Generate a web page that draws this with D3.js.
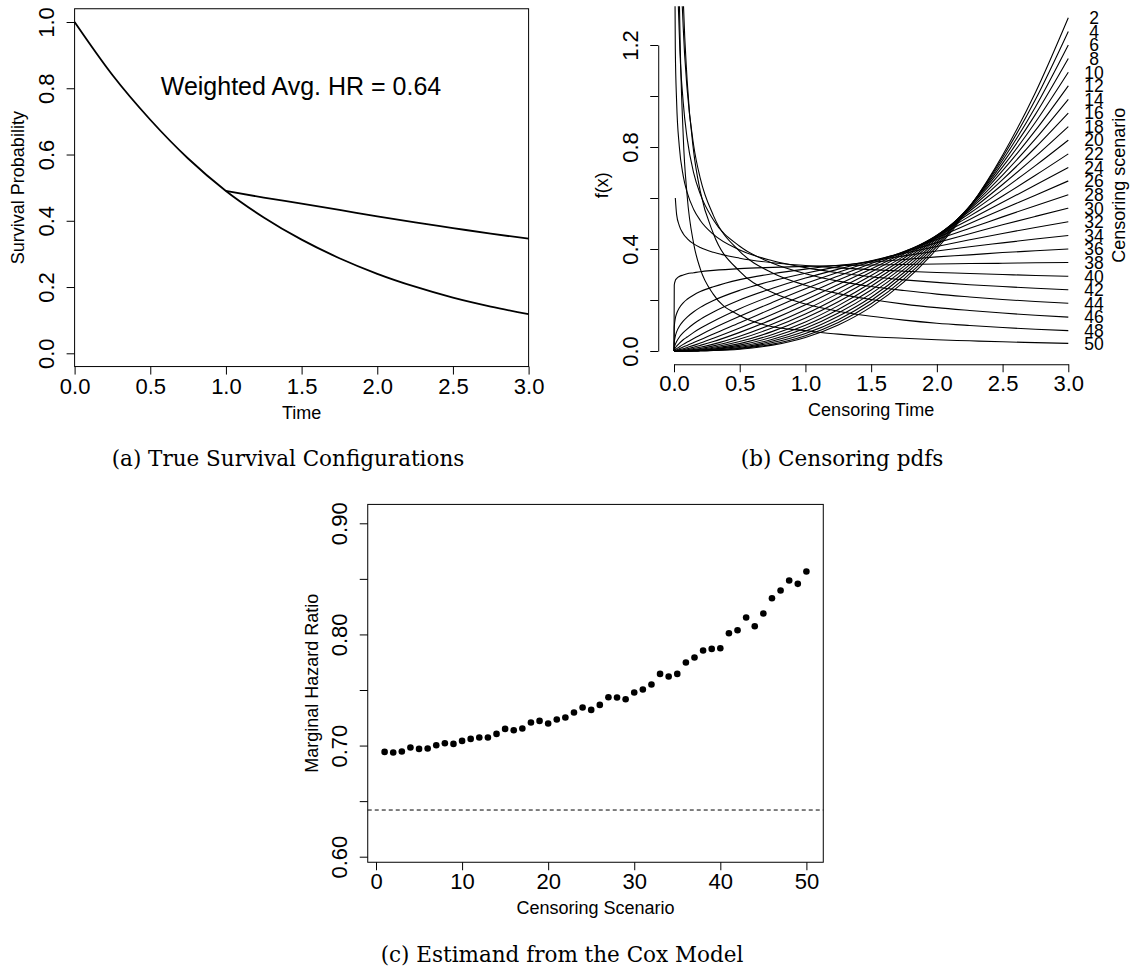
<!DOCTYPE html>
<html lang="en">
<head>
<meta charset="UTF-8">
<title>Survival configurations, censoring pdfs and Cox estimand</title>
<script src="https://d3js.org/d3.v7.min.js"></script>
<style>
  body { margin: 0; background: #fff; }
  svg { display: block; font-family: "Liberation Sans", Arial, sans-serif; }
  .caption { font-family: "DejaVu Serif", serif; font-size: 21.5px; }
  .tick line, .domain { stroke: #000; stroke-width: 1; }
</style>
</head>
<body>
<script>
// ---------- data: (a) true survival ----------
const survTime  = [0, 0.25, 0.5, 0.75, 1.0, 1.25, 1.5, 1.75, 2.0, 2.25, 2.5, 2.75, 3.0];
const survLower = [1.0, 0.840, 0.705, 0.588, 0.490, 0.410, 0.343, 0.287, 0.240, 0.201, 0.168, 0.141, 0.118];
const survUpperTime = [1.0, 1.25, 1.5, 1.75, 2.0, 2.25, 2.5, 2.75, 3.0];
const survUpper = [0.490, 0.470, 0.452, 0.433, 0.413, 0.395, 0.378, 0.361, 0.346];
const aTicksX = [0, 0.5, 1, 1.5, 2, 2.5, 3];
const aTicksY = [0, 0.2, 0.4, 0.6, 0.8, 1.0];

// ---------- data: (b) censoring pdfs, one array per scenario ----------
const censorX = [0, 0.002, 0.01, 0.02, 0.04, 0.07, 0.1, 0.15, 0.2, 0.3, 0.5, 0.75, 1, 1.25, 1.5, 1.75, 2, 2.25, 2.5, 2.75, 3];
const pdf02 = [0,0,0,0,0,0,0,0,0.001,0.002,0.007,0.023,0.053,0.102,0.173,0.271,0.400,0.564,0.768,1.014,1.307];
const pdf04 = [0,0,0,0,0,0,0,0,0.001,0.002,0.009,0.027,0.060,0.112,0.185,0.283,0.410,0.566,0.759,0.986,1.253];
const pdf06 = [0,0,0,0,0,0,0,0,0.001,0.003,0.011,0.033,0.069,0.123,0.198,0.296,0.419,0.567,0.748,0.957,1.2];
const pdf08 = [0,0,0,0,0,0,0,0.001,0.002,0.004,0.014,0.039,0.078,0.136,0.211,0.308,0.427,0.568,0.736,0.928,1.147];
const pdf10 = [0,0,0,0,0,0,0,0.001,0.002,0.006,0.018,0.046,0.089,0.149,0.225,0.320,0.434,0.567,0.722,0.897,1.093];
const pdf12 = [0,0,0,0,0,0,0.001,0.002,0.003,0.008,0.023,0.055,0.101,0.163,0.239,0.332,0.441,0.565,0.707,0.865,1.04];
const pdf14 = [0,0,0,0,0,0.001,0.001,0.003,0.005,0.011,0.029,0.065,0.114,0.178,0.254,0.343,0.446,0.561,0.690,0.832,0.987];
const pdf16 = [0,0,0,0,0,0.001,0.002,0.004,0.007,0.015,0.037,0.077,0.129,0.193,0.268,0.354,0.450,0.556,0.672,0.798,0.933];
const pdf18 = [0,0,0,0,0.001,0.002,0.003,0.006,0.010,0.020,0.047,0.091,0.145,0.210,0.282,0.364,0.453,0.549,0.653,0.763,0.88];
const pdf20 = [0,0,0,0,0.001,0.003,0.005,0.010,0.015,0.027,0.058,0.106,0.162,0.226,0.296,0.372,0.454,0.540,0.632,0.727,0.827];
const pdf22 = [0,0,0,0.001,0.003,0.005,0.009,0.015,0.022,0.037,0.073,0.124,0.181,0.244,0.310,0.380,0.453,0.529,0.608,0.689,0.773];
const pdf24 = [0,0,0.001,0.002,0.005,0.009,0.014,0.022,0.031,0.050,0.090,0.144,0.201,0.261,0.322,0.385,0.450,0.516,0.583,0.651,0.72];
const pdf26 = [0,0,0.002,0.004,0.009,0.016,0.022,0.033,0.044,0.067,0.111,0.167,0.222,0.278,0.333,0.389,0.444,0.5,0.556,0.611,0.667];
const pdf28 = [0,0.001,0.005,0.009,0.016,0.026,0.035,0.049,0.063,0.089,0.136,0.191,0.244,0.294,0.343,0.390,0.437,0.481,0.526,0.570,0.613];
const pdf30 = [0,0.004,0.012,0.019,0.030,0.044,0.055,0.073,0.089,0.117,0.166,0.218,0.265,0.309,0.350,0.388,0.425,0.460,0.495,0.528,0.56];
const pdf32 = [0,0.011,0.026,0.037,0.054,0.072,0.086,0.107,0.124,0.153,0.200,0.246,0.286,0.321,0.354,0.383,0.410,0.436,0.461,0.484,0.507];
const pdf34 = [0,0.033,0.058,0.075,0.096,0.117,0.133,0.154,0.171,0.198,0.238,0.275,0.305,0.331,0.353,0.373,0.392,0.409,0.424,0.439,0.453];
const pdf36 = [0,0.093,0.128,0.147,0.169,0.189,0.203,0.220,0.233,0.252,0.280,0.303,0.321,0.336,0.348,0.359,0.369,0.377,0.386,0.393,0.4];
const pdf38 = [0,0.259,0.276,0.284,0.292,0.298,0.303,0.307,0.311,0.316,0.323,0.328,0.332,0.335,0.337,0.339,0.341,0.343,0.344,0.346,0.347];
const pdf40 = [null,null,0.60,0.535,0.492,0.460,0.441,0.420,0.406,0.387,0.364,0.346,0.335,0.326,0.319,0.313,0.308,0.304,0.300,0.296,0.293];
const pdf42 = [null,1.86,1.185,0.976,0.804,0.687,0.622,0.555,0.512,0.457,0.396,0.354,0.327,0.307,0.291,0.279,0.269,0.260,0.253,0.246,0.24];
const pdf44 = [null,null,2.297,1.693,1.247,0.976,0.834,0.698,0.615,0.514,0.411,0.344,0.303,0.274,0.253,0.237,0.223,0.212,0.202,0.194,0.187];
const pdf46 = [null,null,4.08,2.69,1.777,1.271,1.026,0.805,0.677,0.531,0.391,0.306,0.258,0.225,0.202,0.184,0.170,0.159,0.149,0.140,0.133];
const pdf48 = [null,null,6.1,3.61,2.13,1.391,1.061,0.780,0.626,0.460,0.312,0.229,0.184,0.156,0.136,0.121,0.109,0.100,0.092,0.085,0.08];
const pdf50 = [null,null,5.07,2.68,1.416,0.846,0.609,0.420,0.322,0.222,0.139,0.095,0.08,0.066,0.056,0.05,0.044,0.04,0.036,0.033,0.03];
const censorScenario = [2, 4, 6, 8, 10, 12, 14, 16, 18, 20, 22, 24, 26, 28, 30, 32, 34, 36, 38, 40, 42, 44, 46, 48, 50];
const censorCurves = [pdf02, pdf04, pdf06, pdf08, pdf10, pdf12, pdf14, pdf16, pdf18, pdf20, pdf22, pdf24, pdf26,
                      pdf28, pdf30, pdf32, pdf34, pdf36, pdf38, pdf40, pdf42, pdf44, pdf46, pdf48, pdf50];
const bTicksX = [0, 0.5, 1, 1.5, 2, 2.5, 3];
const bTicksY = [0, 0.2, 0.4, 0.6, 0.8, 1.0, 1.2];
const bLabelsY = [0, 0.4, 0.8, 1.2];

// ---------- data: (c) marginal HR from the Cox model ----------
const coxScenario = [1,2,3,4,5,6,7,8,9,10,11,12,13,14,15,16,17,18,19,20,21,22,23,24,25,
                     26,27,28,29,30,31,32,33,34,35,36,37,38,39,40,41,42,43,44,45,46,47,48,49,50];
const coxHR = [0.6943,0.6937,0.6946,0.6982,0.6970,0.6973,0.7003,0.7021,0.7015,0.7042,
               0.7060,0.7072,0.7072,0.7105,0.7150,0.7138,0.7153,0.7207,0.7222,0.7198,
               0.7234,0.7252,0.7297,0.7342,0.7321,0.7366,0.7435,0.7432,0.7417,0.7477,
               0.7504,0.7549,0.7645,0.7621,0.7645,0.7747,0.7792,0.7855,0.7870,0.7876,
               0.8011,0.8038,0.8152,0.8074,0.8188,0.8326,0.8395,0.8485,0.8455,0.8566];
const weightedHR = 0.642;
const cTicksX = [0, 10, 20, 30, 40, 50];
const cTicksY = [0.60, 0.65, 0.70, 0.75, 0.80, 0.85, 0.90];
const cLabelsY = [0.6, 0.7, 0.8, 0.9];

// ---------- svg ----------
const svg = d3.select('body').append('svg')
    .attr('width', 1130)
    .attr('height', 973);
svg.append('rect').attr('width', 1130).attr('height', 973).attr('fill', '#fff');

const TICK = 8, TICK_FONT = 22, LAB_FONT = 18;

// bottom axis with labels whose baseline sits 27px under the axis line
function bottomAxis(g, scale, values, fmt, keepDomain) {
    g.call(d3.axisBottom(scale).tickValues(values).tickFormat(fmt).tickSize(TICK).tickSizeOuter(0));
    if (!keepDomain) g.select('.domain').remove();
    g.selectAll('text').attr('y', 27).attr('dy', null)
        .style('font-size', TICK_FONT + 'px').attr('fill', '#000');
}
// left axis, labels rotated like R's las = 0
function leftAxis(g, scale, values, fmt, keepDomain) {
    g.call(d3.axisLeft(scale).tickValues(values).tickFormat(fmt).tickSize(TICK).tickSizeOuter(0));
    if (!keepDomain) g.select('.domain').remove();
    g.selectAll('text').attr('x', 0).attr('y', -20.6).attr('dy', null)
        .attr('transform', 'rotate(-90)').style('text-anchor', 'middle')
        .style('font-size', TICK_FONT + 'px').attr('fill', '#000');
}
function vLabel(x, y, txt, size) {
    svg.append('text').attr('transform', `translate(${x},${y}) rotate(-90)`)
        .attr('text-anchor', 'middle').style('font-size', size + 'px').text(txt);
}

// ================= (a) =================
const xA = d3.scaleLinear().domain([0, 3]).range([74.6, 528.6]);
const yA = d3.scaleLinear().domain([0, 1]).range([353.3, 22]);
const aTop = yA(1.04), aBot = yA(-0.04);

svg.append('rect').attr('x', xA(0)).attr('y', aTop)
    .attr('width', xA(3) - xA(0)).attr('height', aBot - aTop)
    .attr('fill', 'none').attr('stroke', '#000');

bottomAxis(svg.append('g').attr('transform', `translate(0,${aBot})`), xA, aTicksX, d3.format('.1f'));
leftAxis(svg.append('g').attr('transform', `translate(${xA(0)},0)`), yA, aTicksY, d3.format('.1f'));

const lineA = d3.line().x(d => xA(d[0])).y(d => yA(d[1])).curve(d3.curveMonotoneX);
svg.append('path').attr('d', lineA(survTime.map((t, i) => [t, survLower[i]])))
    .attr('fill', 'none').attr('stroke', '#000').attr('stroke-width', 1.8);
svg.append('path').attr('d', lineA(survUpperTime.map((t, i) => [t, survUpper[i]])))
    .attr('fill', 'none').attr('stroke', '#000').attr('stroke-width', 1.8);

svg.append('text').attr('x', 301).attr('y', 95).attr('text-anchor', 'middle')
    .style('font-size', '25px').text('Weighted Avg. HR = 0.64');
svg.append('text').attr('x', (xA(0) + xA(3)) / 2).attr('y', aBot + 52)
    .attr('text-anchor', 'middle').style('font-size', LAB_FONT + 'px').text('Time');
vLabel(xA(0) - 50.2, (aTop + aBot) / 2, 'Survival Probability', LAB_FONT);

// ================= (b) =================
const xB = d3.scaleLinear().domain([0, 3]).range([674, 1068.3]);
const yB = d3.scaleLinear().domain([0, 1.2]).range([351, 45]);
const bLeft = xB(-0.12), bRight = xB(3.12), bTop = yB(1.352), bBot = yB(-0.052);

svg.append('clipPath').attr('id', 'clipB').append('rect')
    .attr('x', bLeft).attr('y', bTop).attr('width', bRight - bLeft).attr('height', bBot - bTop);

bottomAxis(svg.append('g').attr('transform', `translate(0,${bBot})`), xB, bTicksX, d3.format('.1f'), true);
leftAxis(svg.append('g').attr('transform', `translate(${bLeft},0)`), yB, bTicksY,
    d => bLabelsY.includes(d) ? d3.format('.1f')(d) : '', true);

const lineB = d3.line()
    .defined(d => d[1] != null)
    .x(d => xB(d[0])).y(d => yB(d[1]))
    .curve(d3.curveMonotoneX);

svg.append('g').attr('clip-path', 'url(#clipB)')
    .selectAll('path')
    .data(censorCurves)
  .enter().append('path')
    .attr('d', vals => lineB(censorX.map((x, i) => [x, vals[i]])))
    .attr('fill', 'none').attr('stroke', '#000').attr('stroke-width', 1.1);

// scenario numbers at the right end of each curve (they touch, as in the original)
svg.append('g').selectAll('text')
    .data(censorCurves)
  .enter().append('text')
    .attr('x', 1094)
    .attr('y', vals => yB(vals[vals.length - 1]))
    .attr('dy', '0.36em')
    .attr('text-anchor', 'middle')
    .style('font-size', '17.5px')
    .text((vals, i) => censorScenario[i]);

vLabel(1124.5, (bTop + bBot) / 2, 'Censoring scenario', 18);
svg.append('text').attr('x', (bLeft + bRight) / 2).attr('y', bBot + 52)
    .attr('text-anchor', 'middle').style('font-size', LAB_FONT + 'px').text('Censoring Time');
vLabel(bLeft - 50.2, (bTop + bBot) / 2, 'f(x)', LAB_FONT);

// ================= (c) =================
const xC = d3.scaleLinear().domain([0, 50]).range([376, 806.4]);
const yC = d3.scaleLinear().domain([0.6, 0.9]).range([856.7, 523.3]);
const cLeft = xC(-0.96), cRight = xC(51.96), cTop = yC(0.917), cBot = yC(0.595);

svg.append('rect').attr('x', cLeft).attr('y', cTop)
    .attr('width', cRight - cLeft).attr('height', cBot - cTop)
    .attr('fill', 'none').attr('stroke', '#000');

bottomAxis(svg.append('g').attr('transform', `translate(0,${cBot})`), xC, cTicksX, d3.format('d'));
leftAxis(svg.append('g').attr('transform', `translate(${cLeft},0)`), yC, cTicksY,
    d => cLabelsY.some(v => Math.abs(v - d) < 1e-9) ? d3.format('.2f')(d) : '');

svg.append('line')
    .attr('x1', cLeft).attr('x2', cRight)
    .attr('y1', yC(weightedHR)).attr('y2', yC(weightedHR))
    .attr('stroke', '#000').attr('stroke-width', 1).attr('stroke-dasharray', '4,3');

svg.append('g').selectAll('circle')
    .data(coxHR)
  .enter().append('circle')
    .attr('cx', (d, i) => xC(coxScenario[i]))
    .attr('cy', d => yC(d))
    .attr('r', 3.3)
    .attr('fill', '#000');

svg.append('text').attr('x', (cLeft + cRight) / 2).attr('y', cBot + 52)
    .attr('text-anchor', 'middle').style('font-size', LAB_FONT + 'px').text('Censoring Scenario');
vLabel(cLeft - 50.2, (cTop + cBot) / 2, 'Marginal Hazard Ratio', LAB_FONT);

// ---------- captions ----------
svg.append('text').attr('class', 'caption').attr('x', 288).attr('y', 466)
    .attr('text-anchor', 'middle').text('(a) True Survival Configurations');
svg.append('text').attr('class', 'caption').attr('x', 842).attr('y', 466)
    .attr('text-anchor', 'middle').text('(b) Censoring pdfs');
svg.append('text').attr('class', 'caption').attr('x', 562).attr('y', 962)
    .attr('text-anchor', 'middle').text('(c) Estimand from the Cox Model');
</script>
</body>
</html>
